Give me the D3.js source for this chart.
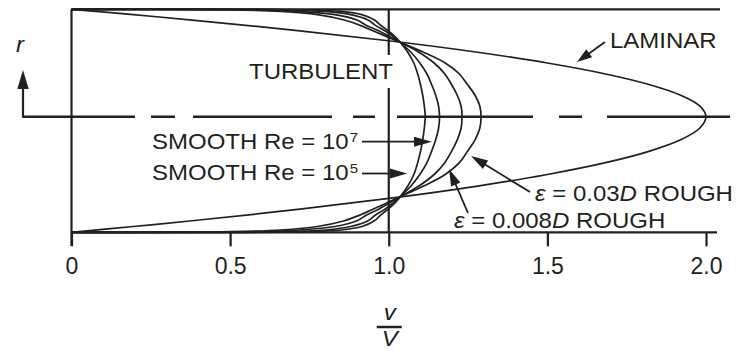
<!DOCTYPE html>
<html>
<head>
<meta charset="utf-8">
<script src="https://cdn.jsdelivr.net/npm/d3@7"></script>
<style>
  body { margin: 0; background: #fff; }
  svg { display: block; }
</style>
</head>
<body>
<svg id="chart" width="744" height="350"></svg>
<script>
// Radial positions r/R, from the pipe centre (0) to the wall (1)
const radius = [0, 0.1, 0.2, 0.3, 0.4, 0.5, 0.6, 0.7, 0.75, 0.8, 0.85, 0.9, 0.95, 0.98, 0.995, 1];
const laminarRadius = [0, 0.1, 0.2, 0.3, 0.4, 0.5, 0.6, 0.7, 0.8, 0.9, 0.95, 1];

// Velocity ratio v/V at each radius
const laminar   = [2.0, 1.98, 1.92, 1.82, 1.68, 1.5, 1.28, 1.02, 0.72, 0.38, 0.195, 0];
const smoothRe7 = [1.115, 1.112, 1.107, 1.100, 1.091, 1.079, 1.060, 1.034, 1.018, 0.998, 0.975, 0.955, 0.915, 0.850, 0.740, 0];
const smoothRe5 = [1.160, 1.157, 1.148, 1.135, 1.120, 1.098, 1.070, 1.033, 1.012, 0.988, 0.958, 0.935, 0.880, 0.800, 0.670, 0];
const rough008  = [1.231, 1.228, 1.216, 1.198, 1.176, 1.143, 1.095, 1.032, 1.000, 0.968, 0.930, 0.900, 0.830, 0.720, 0.580, 0];
const rough03   = [1.291, 1.287, 1.272, 1.248, 1.222, 1.178, 1.110, 1.030, 0.990, 0.950, 0.910, 0.860, 0.775, 0.660, 0.500, 0];

const xTicks = [0, 0.5, 1.0, 1.5, 2.0];
const xTickLabels = ["0", "0.5", "1.0", "1.5", "2.0"];

const ink = "#231f20";
const font = "'Liberation Sans', Arial, Helvetica, sans-serif";
const squash = 0.9;

const svg = d3.select("#chart");

// v/V across, r/R up; the lower half of the section is drawn a little taller
const x = d3.scaleLinear().domain([0, 2]).range([71.5, 706]);
const y = d3.scaleLinear().domain([-1, 0, 1]).range([232.3, 116.7, 9.3]);

// Full diameter profile: wall (+1) down through the centre to wall (-1)
function profile(rs, vs) {
  const upper = rs.map((r, i) => ({ r: r, v: vs[i] })).reverse();
  const lower = rs.slice(1).map((r, i) => ({ r: -r, v: vs[i + 1] }));
  return upper.concat(lower);
}

const line = d3.line()
  .x(d => x(d.v))
  .y(d => y(d.r))
  .curve(d3.curveCatmullRom.alpha(0.5));

function seg(x1, y1, x2, y2, w) {
  return svg.append("line")
    .attr("x1", x1).attr("y1", y1).attr("x2", x2).attr("y2", y2)
    .attr("stroke", ink).attr("stroke-width", w || 2);
}

function arrow(x1, y1, x2, y2, len, half) {
  len = len || 17; half = half || 5;
  const dx = x2 - x1, dy = y2 - y1, L = Math.hypot(dx, dy);
  const ux = dx / L, uy = dy / L;
  const bx = x2 - ux * len, by = y2 - uy * len;
  seg(x1, y1, bx + ux * 2, by + uy * 2, 1.8);
  svg.append("path")
    .attr("d", `M${x2},${y2}L${bx - uy * half},${by + ux * half}L${bx + uy * half},${by - ux * half}Z`)
    .attr("fill", ink);
}

function label(px, py, anchor, size) {
  return svg.append("text")
    .attr("transform", `translate(${px},${py}) scale(1,${squash})`)
    .attr("text-anchor", anchor || "start")
    .attr("font-family", font)
    .attr("font-size", size || 24)
    .attr("fill", ink);
}

// Pipe wall (top) and axis line (bottom), left edge
seg(x(0), y(1), 720, y(1), 2.2);
seg(x(0), y(1), x(0), 246, 2.2);
seg(x(0), y(-1), 717, y(-1), 2.2);

// Mean-velocity line at v/V = 1, broken around the TURBULENT label
seg(x(1), y(1), x(1), 55, 2.2);
seg(x(1), 88, x(1), y(-1), 2.2);

// Pipe centre line
svg.append("line")
  .attr("x1", 23).attr("y1", y(0)).attr("x2", 730).attr("y2", y(0))
  .attr("stroke", ink).attr("stroke-width", 2.5)
  .attr("stroke-dasharray", "112,16,24,18,139,21,22,22,136,26,23,25,123");

// r direction arrow
seg(23, y(0) + 1, 23, 86, 2.2);
svg.append("path").attr("d", "M23,70L17.3,89L28.7,89Z").attr("fill", ink);
label(16, 52).attr("font-style", "italic").text("r");

// Velocity profiles
const profiles = [
  { key: "laminar", rs: laminarRadius, vs: laminar },
  { key: "smoothRe7", rs: radius, vs: smoothRe7 },
  { key: "smoothRe5", rs: radius, vs: smoothRe5 },
  { key: "rough008", rs: radius, vs: rough008 },
  { key: "rough03", rs: radius, vs: rough03 }
];
svg.append("g").selectAll("path")
  .data(profiles)
  .join("path")
  .attr("d", p => line(profile(p.rs, p.vs)))
  .attr("fill", "none")
  .attr("stroke", ink)
  .attr("stroke-width", 1.7);

// x axis ticks and labels
const axis = svg.append("g")
  .attr("transform", `translate(0,${y(-1)})`)
  .call(d3.axisBottom(x)
    .tickValues(xTicks)
    .tickFormat((d, i) => xTickLabels[i])
    .tickSize(14)
    .tickSizeOuter(0));
axis.select(".domain").remove();
axis.selectAll(".tick line").attr("stroke", ink).attr("stroke-width", 2.2);
axis.selectAll(".tick text")
  .attr("y", 42).attr("dy", 0)
  .attr("fill", ink)
  .attr("font-family", font)
  .attr("font-size", 23);

// Axis title v / V
label(x(1) + 1, 320, "middle").attr("font-style", "italic").text("v");
seg(x(1) - 12, 327, x(1) + 13, 327, 2.5);
label(x(1) + 1, 346, "middle").attr("font-style", "italic").text("V");

// Annotations
label(249, 79).text("TURBULENT");

label(610, 48).text("LAMINAR");
arrow(605, 42, 577, 62, 15, 5);

const t7 = label(152, 149);
t7.append("tspan").text("SMOOTH Re = 10");
t7.append("tspan").attr("font-size", 15).attr("dy", -8).attr("dx", 1).text("7");
arrow(362, 141.7, 432, 141.7, 18, 5);

const t5 = label(152, 180);
t5.append("tspan").text("SMOOTH Re = 10");
t5.append("tspan").attr("font-size", 15).attr("dy", -8).attr("dx", 1).text("5");
arrow(362, 173.5, 407, 173.5, 17, 5);

const e3 = label(535, 201);
e3.append("tspan").attr("font-style", "italic").text("ε");
e3.append("tspan").text(" = 0.03");
e3.append("tspan").attr("font-style", "italic").text("D");
e3.append("tspan").text(" ROUGH");
arrow(530, 192, 471, 156, 17, 5);

const e8 = label(454, 228);
e8.append("tspan").attr("font-style", "italic").text("ε");
e8.append("tspan").text(" = 0.008");
e8.append("tspan").attr("font-style", "italic").text("D");
e8.append("tspan").text(" ROUGH");
arrow(468, 213, 449, 169, 17, 5);
</script>
</body>
</html>
